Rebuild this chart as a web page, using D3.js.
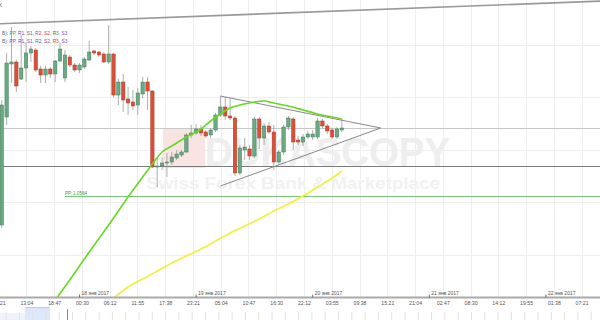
<!DOCTYPE html>
<html><head><meta charset="utf-8">
<script src="https://cdn.jsdelivr.net/npm/d3@7"></script>
<style>html,body{margin:0;padding:0;background:#fff;overflow:hidden}svg{display:block;font-family:"Liberation Sans",Arial,sans-serif}</style>
</head><body><svg id="c" width="600" height="320"></svg>
<script>
// ---------- data ----------
const startTime = "2017-01-17T08:00:00Z"; // first hourly candle
const openP  = [1.0535,1.0643,1.0696,1.0698,1.0681,1.0692,1.0707,1.0710,1.0691,1.0685,1.0691,1.0686,1.0699,1.0682,1.0703,1.0695,1.0690,1.0693,1.0700,1.0709,1.0708,1.0706,1.0698,1.0706,1.0665,1.0678,1.0661,1.0658,1.0655,1.0666,1.0678,1.0669,1.0593,1.0594,1.0597,1.0598,1.0602,1.0605,1.0608,1.0625,1.0627,1.0631,1.0628,1.0625,1.0630,1.0645,1.0653,1.0644,1.0642,1.0587,1.0610,1.0611,1.0604,1.0641,1.0622,1.0634,1.0628,1.0598,1.0608,1.0633,1.0641,1.0620,1.0618,1.0623,1.0623,1.0623,1.0639,1.0634,1.0630,1.0623,1.0630];
const highP  = [1.0660,1.0707,1.0733,1.0700,1.0725,1.0718,1.0714,1.0712,1.0694,1.0694,1.0693,1.0700,1.0717,1.0710,1.0705,1.0697,1.0697,1.0703,1.0719,1.0710,1.0709,1.0708,1.0735,1.0707,1.0681,1.0686,1.0673,1.0670,1.0672,1.0683,1.0683,1.0670,1.0603,1.0603,1.0607,1.0608,1.0610,1.0610,1.0627,1.0635,1.0636,1.0635,1.0630,1.0632,1.0647,1.0664,1.0663,1.0662,1.0644,1.0615,1.0622,1.0615,1.0643,1.0643,1.0637,1.0638,1.0635,1.0610,1.0635,1.0644,1.0643,1.0624,1.0626,1.0629,1.0630,1.0642,1.0641,1.0636,1.0632,1.0633,1.0641];
const lowP   = [1.0532,1.0635,1.0677,1.0668,1.0680,1.0678,1.0698,1.0688,1.0677,1.0677,1.0682,1.0678,1.0698,1.0678,1.0693,1.0688,1.0687,1.0691,1.0699,1.0705,1.0703,1.0697,1.0696,1.0663,1.0655,1.0648,1.0645,1.0650,1.0645,1.0662,1.0650,1.0592,1.0573,1.0590,1.0583,1.0595,1.0600,1.0603,1.0607,1.0622,1.0625,1.0624,1.0622,1.0622,1.0628,1.0643,1.0640,1.0640,1.0584,1.0585,1.0600,1.0600,1.0602,1.0611,1.0615,1.0626,1.0590,1.0595,1.0605,1.0630,1.0610,1.0615,1.0614,1.0621,1.0620,1.0621,1.0632,1.0626,1.0621,1.0621,1.0628];
const closeP = [1.0655,1.0697,1.0698,1.0674,1.0692,1.0707,1.0711,1.0690,1.0685,1.0691,1.0686,1.0699,1.0711,1.0705,1.0695,1.0690,1.0695,1.0701,1.0708,1.0707,1.0705,1.0698,1.0706,1.0665,1.0678,1.0660,1.0657,1.0654,1.0667,1.0678,1.0669,1.0593,1.0594,1.0597,1.0598,1.0603,1.0606,1.0608,1.0625,1.0627,1.0631,1.0627,1.0624,1.0630,1.0645,1.0653,1.0644,1.0642,1.0587,1.0612,1.0613,1.0604,1.0641,1.0622,1.0634,1.0628,1.0598,1.0608,1.0633,1.0642,1.0618,1.0618,1.0623,1.0626,1.0626,1.0639,1.0634,1.0629,1.0623,1.0631,1.0632];

// moving averages (candle index, value)
const maFastIdx = [11,14,18,22,26,29,31,33,35,38,41,43,45,47,49,51,54,56,59,62,65,68,70];
const maFastVal = [1.0460,1.0480,1.0508,1.0535,1.0563,1.0583,1.0596,1.0608,1.0614,1.0623,1.0631,1.0639,1.0646,1.0652,1.0655,1.0657,1.0659,1.0657,1.0654,1.0650,1.0646,1.0643,1.0641];
const maSlowIdx = [23,26,29,32,35,38,41,44,47,50,53,56,59,62,65,68,70];
const maSlowVal = [1.0462,1.0473,1.0481,1.0489,1.0497,1.0504,1.0511,1.0519,1.0527,1.0534,1.0541,1.0549,1.0556,1.0564,1.0573,1.0582,1.0589];

// drawn objects
const trendTimes  = ["2017-01-17T06:00:00Z","2017-01-22T12:00:00Z"];
const trendPrices = [1.0736,1.0759];
const triTimes  = ["2017-01-19T05:00:00Z","2017-01-20T14:00:00Z","2017-01-19T05:00:00Z"];
const triPrices = [1.0664,1.0632,1.0574];
const levelPrices = [1.0632,1.0594];
const ppStart = "2017-01-17T21:00:00Z";
const ppValue = 1.0564;
const ppLabel = "PP, 1.0564";
const gridPrices = [1.0715,1.0663,1.0610,1.0558,1.0505];

const timeTicks = ["2017-01-17T07:21","2017-01-17T13:04","2017-01-17T18:47","2017-01-18T00:30","2017-01-18T06:12","2017-01-18T11:55","2017-01-18T17:38","2017-01-18T23:21","2017-01-19T05:04","2017-01-19T10:47","2017-01-19T16:30","2017-01-19T22:12","2017-01-20T03:55","2017-01-20T09:38","2017-01-20T15:21","2017-01-20T21:04","2017-01-21T02:47","2017-01-21T08:30","2017-01-21T14:12","2017-01-21T19:55","2017-01-22T01:38","2017-01-22T07:21"];
const dayTicks = ["2017-01-18","2017-01-19","2017-01-20","2017-01-21","2017-01-22"];
const dayLabels = ["18 янв 2017","19 янв 2017","20 янв 2017","21 янв 2017","22 янв 2017"];
const legendRows = [
  ["B):","PP","R1","S1","R2","S2","R3","S3"],
  ["B):","PP","R1","S1","R2","S2","R3","S3"]
];
const legendColors = [
  ["#666","#3aa33a","#4a5fd0","#666","#d04040","#d04040","#666","#8a4ab0"],
  ["#666","#8a4ab0","#4a5fd0","#8a4ab0","#666","#8a4ab0","#d04040","#8a4ab0"]
];

// ---------- chart ----------
const svg = d3.select("#c");
const W = 600, H = 320, axisY = 297.5;
const utc = s => new Date(s.length <= 16 ? s + ":00Z" : s);
const x = d3.scaleUtc().domain([new Date(Date.UTC(2017,0,18)), new Date(Date.UTC(2017,0,22))]).range([79.5, 545.9]);
const y = d3.scaleLinear().domain([1.0440, 1.0760]).range([320, 0]);
const t0 = new Date(startTime);
const tAt = i => new Date(t0.getTime() + i * 3600e3);
const candles = openP.map((o, i) => ({t: tAt(i), o, h: highP[i], l: lowP[i], c: closeP[i]}));

svg.append("defs").append("clipPath").attr("id","plot").append("rect").attr("x",0).attr("y",0).attr("width",W).attr("height",axisY-0.5);
const plot = svg.append("g").attr("clip-path","url(#plot)");

// grid
plot.append("g").selectAll("line").data(gridPrices).join("line")
  .attr("x1",0).attr("x2",W).attr("y1",d=>Math.round(y(d))+0.5).attr("y2",d=>Math.round(y(d))+0.5)
  .attr("stroke","#eeeeee").attr("stroke-width",1);
plot.append("g").selectAll("line").data(timeTicks).join("line")
  .attr("x1",d=>Math.round(x(utc(d)))+0.5).attr("x2",d=>Math.round(x(utc(d)))+0.5).attr("y1",0).attr("y2",axisY)
  .attr("stroke","#eeeeee").attr("stroke-width",1);

// watermark
const wm = plot.append("g");
wm.append("rect").attr("x",163).attr("y",128).attr("width",42).attr("height",40).attr("fill","#f9e4e4");
wm.append("text").attr("x",205).attr("y",166).attr("font-size",40).attr("font-weight","bold").attr("fill","#eeeeee").attr("textLength",245).attr("lengthAdjust","spacingAndGlyphs").text("DUKASCOPY");
wm.append("text").attr("x",146).attr("y",189).attr("font-size",16).attr("font-weight","bold").attr("fill","#f1f1f1").attr("textLength",294).attr("lengthAdjust","spacingAndGlyphs").text("Swiss Forex Bank & Marketplace");

// level lines
plot.append("line").attr("x1",0).attr("x2",W).attr("y1",Math.round(y(levelPrices[0]))+0.5).attr("y2",Math.round(y(levelPrices[0]))+0.5).attr("stroke","#c8c8c8");
plot.append("line").attr("x1",0).attr("x2",W).attr("y1",Math.round(y(levelPrices[1]))+0.5).attr("y2",Math.round(y(levelPrices[1]))+0.5).attr("stroke","#7a7a7a");

// PP
const ppY = Math.round(y(ppValue)) + 0.5;
plot.append("line").attr("x1",x(utc(ppStart))).attr("x2",W).attr("y1",ppY).attr("y2",ppY).attr("stroke","#7cc47c");
plot.append("text").attr("x",x(utc(ppStart))).attr("y",ppY-2).attr("font-size",4.6).attr("fill","#3a9a3a").text(ppLabel);

// trend line
plot.append("line").attr("x1",x(utc(trendTimes[0]))).attr("y1",y(trendPrices[0])).attr("x2",x(utc(trendTimes[1]))).attr("y2",y(trendPrices[1]))
  .attr("stroke","#999").attr("stroke-width",1.6);

// candles
const cw = 3.4;
const cg = plot.append("g");
cg.selectAll("line").data(candles).join("line")
  .attr("x1",d=>x(d.t)).attr("x2",d=>x(d.t)).attr("y1",d=>y(d.h)).attr("y2",d=>y(d.l))
  .attr("stroke","#9a9a9a").attr("stroke-width",0.8);
cg.selectAll("rect").data(candles).join("rect")
  .attr("x",d=>x(d.t)-cw/2).attr("width",cw)
  .attr("y",d=>y(Math.max(d.o,d.c))).attr("height",d=>Math.max(1,Math.abs(y(d.o)-y(d.c))))
  .attr("fill",d=>d.c>=d.o?"#6aa982":"#d9503a")
  .attr("stroke",d=>d.c>=d.o?"#3f7f58":"#b03a26").attr("stroke-width",0.5);

// triangle
const tri = d3.line().x(d=>x(utc(d[0]))).y(d=>y(d[1]));
plot.append("path").attr("d",tri(triTimes.map((t,i)=>[t,triPrices[i]])))
  .attr("fill","none").attr("stroke","#888").attr("stroke-width",1);

// MAs
const maLine = d3.line().curve(d3.curveMonotoneX).x(d=>x(tAt(d[0]))).y(d=>y(d[1]));
plot.append("path").attr("d",maLine(maSlowIdx.map((v,i)=>[v,maSlowVal[i]]))).attr("fill","none").attr("stroke","#f3f03a").attr("stroke-width",1.6);
plot.append("path").attr("d",maLine(maFastIdx.map((v,i)=>[v,maFastVal[i]]))).attr("fill","none").attr("stroke","#66d922").attr("stroke-width",1.6);

// legend
legendRows.forEach((row,r)=>{
  const t = svg.append("text").attr("x",2).attr("y",35+r*7.5).attr("font-size",4.8);
  row.forEach((s,k)=>{
    t.append("tspan").attr("fill",legendColors[r][k]).text(s);
    if (k>0 && k<row.length-1) t.append("tspan").attr("fill","#666").text(", ");
    else if (k===0) t.append("tspan").text(" ");
  });
});
svg.append("text").attr("x",-8).attr("y",7).attr("font-size",5).attr("fill","#444").text("ASK");

// x axis
const ax = svg.append("g").attr("transform",`translate(0,${axisY})`)
  .call(d3.axisBottom(x).tickValues(timeTicks.map(utc)).tickFormat(d3.utcFormat("%H:%M")).tickSize(0).tickPadding(4));
ax.select(".domain").attr("stroke","#aaa").attr("stroke-width",2).attr("d",`M0,0H${W}`);
ax.selectAll("text").attr("font-size",5.2).attr("fill","#555").attr("font-family","Liberation Sans, Arial, sans-serif");
const dg = svg.append("g");
dayTicks.forEach((d,i)=>{
  const px = x(utc(d+"T00:00"));
  dg.append("line").attr("x1",px).attr("x2",px).attr("y1",axisY-3).attr("y2",axisY).attr("stroke","#555").attr("stroke-width",0.8);
  dg.append("text").attr("x",px+2).attr("y",axisY-3).attr("font-size",5).attr("fill","#555").text(dayLabels[i]);
});

// navigator strip
const nav = svg.append("g");
nav.append("rect").attr("x",0).attr("y",313).attr("width",25).attr("height",7).attr("fill","#eef3fb");
nav.append("rect").attr("x",25).attr("y",307).attr("width",25).attr("height",13).attr("fill","#dce7f7");
nav.append("line").attr("x1",25).attr("x2",50).attr("y1",307.5).attr("y2",307.5).attr("stroke","#b9cdea");
nav.selectAll("line.tk").data(d3.range(0,600,13.3)).join("line").attr("class","tk")
  .attr("x1",d=>d+6).attr("x2",d=>d+6).attr("y1",312).attr("y2",320).attr("stroke","#e2e2e2");
nav.append("line").attr("x1",67.5).attr("x2",67.5).attr("y1",309).attr("y2",320).attr("stroke","#888");
</script></body></html>
